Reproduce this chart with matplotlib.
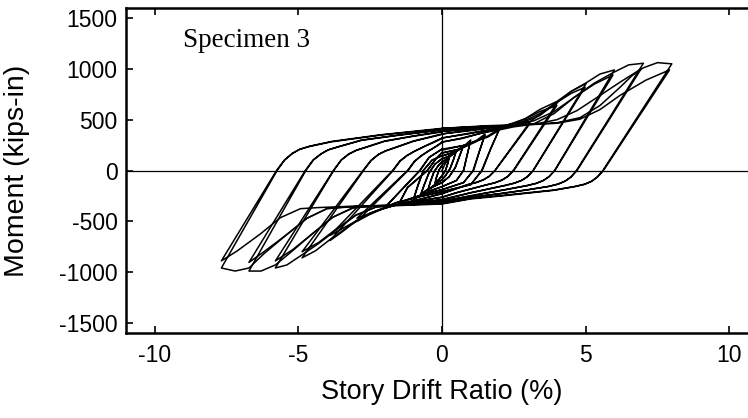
import matplotlib
matplotlib.use("Agg")
import matplotlib.pyplot as plt

# ---------------- data (drift %, moment kips-in) ----------------
lvl025_drift = [0.0, 0.1, 0.2, 0.25, 0.2, 0.12, 0.0, -0.1, -0.2, -0.25, -0.2, -0.1, 0.0,
                0.1, 0.2, 0.25, 0.2, 0.12, 0.0, -0.1, -0.2, -0.25, -0.2, -0.1, 0.0]
lvl025_moment = [0, 60, 105, 130, 70, 0, -50, -85, -115, -140, -75, 5, 50,
                 85, 110, 128, 68, -2, -52, -85, -112, -137, -72, 8, 52]

lvl05_drift = [0.0, 0.2, 0.38, 0.5, 0.4, 0.28, 0.12, 0.0, -0.2, -0.38, -0.5, -0.4, -0.28, -0.12, 0.0,
               0.2, 0.38, 0.49, 0.4, 0.28, 0.12, 0.0, -0.2, -0.38, -0.49, -0.4, -0.28, -0.12, 0.0]
lvl05_moment = [80, 120, 165, 195, 110, 20, -50, -90, -130, -170, -200, -110, -15, 50, 85,
                118, 160, 188, 105, 15, -52, -92, -128, -166, -195, -105, -12, 52, 88]

lvl075_drift = [0.0, 0.3, 0.58, 0.75, 0.62, 0.46, 0.25, 0.0, -0.3, -0.58, -0.75, -0.62, -0.46, -0.25, 0.0,
                0.3, 0.58, 0.74, 0.62, 0.46, 0.25, 0.0, -0.3, -0.58, -0.74, -0.62, -0.46, -0.25, 0.0]
lvl075_moment = [110, 150, 205, 250, 150, 30, -60, -120, -160, -205, -245, -145, -30, 60, 115,
                 148, 200, 240, 145, 25, -62, -118, -158, -200, -238, -140, -25, 62, 118]

lvl1_drift = [0.0, 0.4, 0.8, 1.0, 0.88, 0.75, 0.5, 0.0, -0.4, -0.8, -1.0, -0.85, -0.65, -0.35, 0.0,
              0.4, 0.8, 0.99, 0.88, 0.75, 0.5, 0.0, -0.4, -0.8, -0.99, -0.85, -0.65, -0.35, 0.0]
lvl1_moment = [140, 180, 250, 300, 160, 0, -100, -160, -200, -255, -290, -160, 0, 100, 145,
               178, 242, 288, 155, 0, -98, -158, -198, -250, -282, -155, 0, 102, 148]

lvl15_drift = [0.0, 0.6, 1.2, 1.5, 1.3, 1.08, 0.75, 0.0, -0.6, -1.2, -1.5, -1.2, -0.5, -0.2, 0.0,
               0.6, 1.2, 1.49, 1.3, 1.1, 0.75, 0.0, -0.6, -1.2, -1.49, -1.2, -0.52, -0.2, 0.0]
lvl15_moment = [170, 210, 295, 360, 190, 0, -120, -190, -230, -290, -330, -170, 0, 120, 175,
                208, 285, 345, 185, 0, -118, -188, -228, -285, -320, -165, 0, 118, 178]

lvl2_drift = [0.0, 0.8, 1.6, 2.0, 1.7, 1.38, 1.0, 0.0, -0.8, -1.6, -2.0, -1.4, -0.76, -0.45, 0.0,
              0.8, 1.6, 1.98, 1.7, 1.4, 1.0, 0.0, -0.8, -1.6, -1.98, -1.4, -0.78, -0.45, 0.0]
lvl2_moment = [200, 250, 340, 410, 220, 0, -140, -210, -260, -320, -370, -190, 0, 130, 210,
               248, 330, 395, 215, 0, -138, -208, -258, -315, -360, -185, 0, 128, 212]

lvl3_drift = [0.0, 0.7, 1.4, 2.0, 2.6, 3.06, 2.45, 1.84, 1.64, 1.44, 1.2, 0.9, 0.4, 0.0, -0.6, -1.2,
              -2.0, -2.5, -2.96, -2.07, -1.18, -0.95, -0.72, -0.48, -0.2, 0.0,
              0.7, 1.4, 2.0, 2.5, 3.03, 2.44, 1.85, 1.65, 1.45, 1.21, 0.9, 0.4, 0.0, -0.8,
              -1.5, -2.2, -2.96, -2.08, -1.2, -0.97, -0.74, -0.5, -0.2, 0.0]
lvl3_moment = [280, 320, 370, 410, 450, 475, 238, 0, -58, -92, -118, -140, -190, -230, -270, -310,
               -370, -430, -500, -250, 0, 90, 145, 190, 240, 280,
               315, 370, 400, 430, 450, 225, 0, -56, -90, -116, -138, -187, -225, -290,
               -330, -390, -470, -235, 0, 88, 142, 187, 236, 275]

lvl4_drift = [0.0, 0.9, 1.8, 2.4, 3.06, 3.5, 4.03, 3.26, 2.48, 2.28, 2.08, 1.83, 1.5, 0.9, 0.5, 0.0, -0.8, -1.5,
              -2.2, -2.96, -3.5, -3.9, -2.8, -1.7, -1.45, -1.2, -0.95, -0.6, -0.3, 0.0,
              0.9, 1.8, 2.4, 2.9, 3.4, 4.0, 3.25, 2.5, 2.3, 2.1, 1.85, 1.52, 0.9, 0.5, 0.0, -0.8, -1.2,
              -1.8, -2.5, -3.2, -3.9, -2.81, -1.72, -1.47, -1.22, -0.97, -0.6, -0.3, 0.0]
lvl4_moment = [320, 365, 410, 460, 480, 570, 676, 338, 0, -60, -95, -122, -145, -190, -220, -265, -300, -330,
               -390, -490, -610, -690, -345, 0, 95, 150, 190, 240, 280, 320,
               360, 405, 450, 510, 580, 640, 320, 0, -58, -93, -120, -143, -188, -218, -262, -298, -320,
               -345, -420, -530, -640, -320, 0, 93, 148, 188, 237, 275, 315]

lvl5_drift = [0.0, 1.2, 2.2, 2.9, 3.4, 4.0, 4.5, 5.02, 4.1, 3.17, 2.97, 2.77, 2.52, 2.2, 1.5, 1.0, 0.0, -1.0, -1.8,
              -2.5, -3.2, -3.9, -4.4, -4.87, -3.8, -2.73, -2.46, -2.2, -1.95, -1.6, -1.0, 0.0,
              1.2, 2.2, 2.8, 3.4, 4.0, 4.5, 4.98, 4.08, 3.18, 2.98, 2.78, 2.53, 2.2, 1.5, 1.0, 0.0, -1.0, -1.8,
              -2.3, -3.0, -3.7, -4.3, -4.87, -3.81, -2.75, -2.48, -2.22, -1.97, -1.6, -1.0, 0.0]
lvl5_moment = [360, 405, 440, 510, 600, 680, 780, 858, 429, 0, -62, -98, -125, -148, -190, -220, -290, -320, -345,
               -420, -540, -680, -790, -860, -430, 0, 100, 160, 195, 230, 290, 360,
               400, 440, 480, 560, 670, 760, 820, 410, 0, -60, -96, -123, -146, -188, -218, -285, -318, -345,
               -360, -440, -580, -710, -800, -400, 0, 98, 157, 192, 227, 287, 355]

lvl6_drift = [0.0, 1.3, 2.6, 3.4, 4.0, 4.5, 5.0, 5.5, 6.0, 4.96, 3.92, 3.72, 3.52, 3.27, 2.95, 2.2, 1.5, 0.0, -1.2, -2.3,
              -3.0, -3.7, -4.3, -4.87, -5.4, -5.8, -4.79, -3.77, -3.5, -3.23, -2.98, -2.6, -2.0, -1.0, 0.0,
              1.3, 2.6, 3.2, 3.9, 4.6, 5.3, 5.95, 4.94, 3.93, 3.73, 3.53, 3.28, 2.96, 2.2, 1.5, 0.0, -1.2, -2.6,
              -3.1, -3.8, -4.5, -5.2, -5.8, -4.79, -3.78, -3.51, -3.24, -2.99, -2.6, -2.0, -1.0, 0.0]
lvl6_moment = [385, 420, 450, 540, 670, 780, 860, 950, 990, 495, 0, -62, -100, -128, -150, -190, -225, -305, -335, -360,
               -440, -590, -720, -830, -930, -960, -480, 0, 105, 165, 200, 235, 290, 340, 385,
               415, 450, 490, 580, 720, 850, 940, 470, 0, -60, -98, -126, -148, -188, -222, -300, -332, -355,
               -370, -460, -620, -780, -890, -445, 0, 103, 162, 197, 232, 287, 337, 380]

lvl7_drift = [0.0, 1.5, 3.2, 3.9, 4.6, 5.3, 6.0, 6.5, 7.01, 5.85, 4.68, 4.48, 4.28, 4.03, 3.7, 3.0, 2.0, 1.0, 0.0, -1.5, -3.1,
              -3.8, -4.5, -5.2, -5.8, -6.3, -6.72, -5.73, -4.74, -4.47, -4.2, -3.95, -3.6, -2.8, -1.5, 0.0,
              1.5, 3.2, 4.0, 4.7, 5.4, 6.2, 6.93, 5.82, 4.7, 4.5, 4.3, 4.05, 3.72, 3.0, 2.0, 1.0, 0.0, -1.5, -3.4,
              -4.0, -4.7, -5.4, -6.2, -6.72, -5.74, -4.76, -4.49, -4.22, -3.97, -3.62, -2.8, -1.5, 0.0]
lvl7_moment = [400, 425, 460, 560, 720, 860, 970, 1040, 1056, 528, 0, -65, -105, -135, -158, -190, -230, -265, -320, -340, -365,
               -460, -620, -790, -930, -990, -990, -495, 0, 105, 165, 205, 235, 300, 350, 400,
               420, 455, 500, 590, 720, 870, 1000, 500, 0, -63, -103, -133, -156, -188, -228, -262, -315, -338, -360,
               -375, -470, -630, -800, -905, -452, 0, 103, 162, 202, 232, 297, 347, 400]

lvl8_drift = [0.0, 1.5, 3.0, 4.0, 4.8, 5.5, 6.2, 6.6, 7.0, 7.5, 8.0,
              6.8, 5.6, 5.4, 5.2, 4.95, 4.6, 3.9, 2.1, 1.0, 0.0, -1.5, -3.0, -4.0,
              -4.7, -5.4, -6.2, -6.72, -7.2, -7.68,
              -6.71, -5.74, -5.47, -5.2, -4.95, -4.6, -3.83, -2.1, 0.0,
              1.5, 3.0, 4.0, 4.8, 5.5, 6.2, 7.1, 7.92,
              6.77, 5.62, 5.42, 5.22, 4.97, 4.62, 3.9, 2.1, 1.0, 0.0, -1.5, -3.0, -4.3,
              -4.93, -5.63, -6.32, -7.13, -7.68,
              -6.72, -5.76, -5.49, -5.22, -4.97, -4.62, -3.85, -2.1, 0.0]
lvl8_moment = [415, 440, 455, 470, 520, 640, 820, 930, 1010, 1062, 1050,
               525, 0, -65, -108, -138, -160, -195, -250, -280, -330, -345, -355, -375,
               -470, -630, -820, -960, -990, -960,
               -480, 0, 105, 170, 210, 240, 287, 353, 415,
               435, 450, 465, 505, 600, 740, 890, 990,
               495, 0, -62, -104, -134, -157, -192, -245, -275, -325, -340, -350, -365,
               -376, -465, -624, -792, -890,
               -445, 0, 102, 166, 206, 236, 282, 350, 410]

x_ticks = [-10, -5, 0, 5, 10]
y_ticks = [-1500, -1000, -500, 0, 500, 1000, 1500]

levels = [
    (lvl025_drift, lvl025_moment), (lvl05_drift, lvl05_moment), (lvl075_drift, lvl075_moment),
    (lvl1_drift, lvl1_moment), (lvl15_drift, lvl15_moment), (lvl2_drift, lvl2_moment),
    (lvl3_drift, lvl3_moment), (lvl4_drift, lvl4_moment), (lvl5_drift, lvl5_moment),
    (lvl6_drift, lvl6_moment), (lvl7_drift, lvl7_moment), (lvl8_drift, lvl8_moment),
]

# ---------------- figure ----------------
plt.rcParams['font.family'] = ['Liberation Sans', 'DejaVu Sans']
fig = plt.figure(figsize=(7.48, 4.18), dpi=100)
ax = fig.add_axes([126 / 748, 1 - 333 / 418, 632 / 748, 325 / 418])

ax.axhline(0, color='black', lw=0.9, zorder=1)
ax.axvline(0, color='black', lw=0.9, zorder=1)

for d, m in levels:
    ax.plot(d, m, color='black', lw=1.1, solid_joinstyle='round', zorder=2)

ax.set_xlim(-11, 11)
ax.set_ylim(-1600, 1600)
ax.set_xticks(x_ticks)
ax.set_yticks(y_ticks)
ax.set_xticklabels([str(v) for v in x_ticks])
ax.set_yticklabels([str(v) for v in y_ticks])
ax.tick_params(direction='in', length=5, width=1.2, labelsize=16.5,
               top=True, right=False)
ax.tick_params(axis='x', pad=8)
ax.tick_params(axis='y', pad=6)
for s in ['left', 'top', 'bottom']:
    ax.spines[s].set_linewidth(1.8)
ax.spines['right'].set_visible(False)

ax.set_xlabel('Story Drift Ratio (%)', fontsize=19.5)
ax.xaxis.label.set_va('center')
ax.xaxis.set_label_coords(0.5, (333 - 392) / 325)
ax.set_ylabel('Moment (kips-in)', fontsize=20.5)
ax.yaxis.label.set_va('center')
ax.yaxis.set_label_coords((17 - 126) / 632, 0.5)

ax.text(-9.02, 1280, 'Specimen 3', fontsize=19.5, va='center', ha='left',
        family=['Liberation Serif', 'DejaVu Serif'])

fig.savefig('out.png', dpi=100)
